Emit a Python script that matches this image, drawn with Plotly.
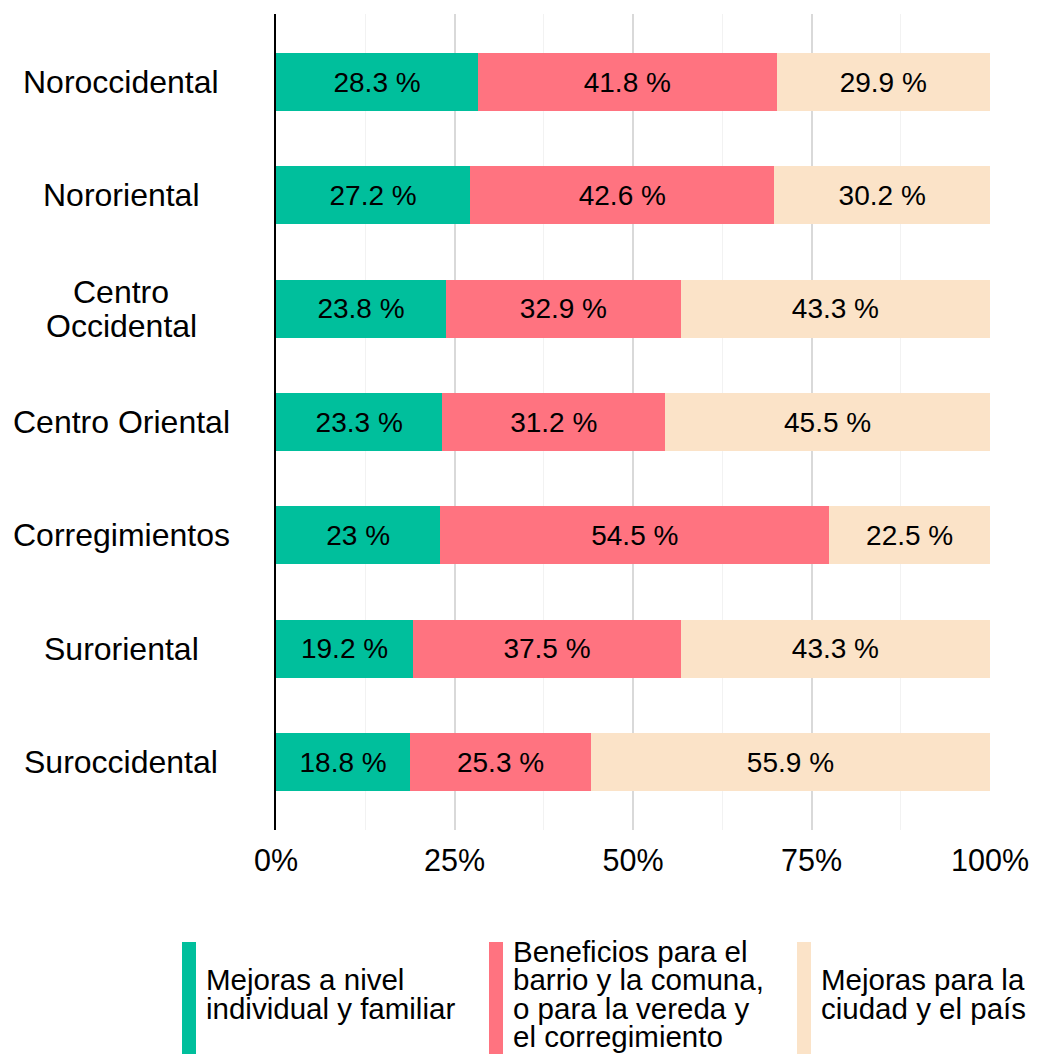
import plotly.graph_objects as go

regiones = ["Noroccidental", "Nororiental", "Centro<br>Occidental", "Centro Oriental",
            "Corregimientos", "Suroriental", "Suroccidental"]
individual = [28.3, 27.2, 23.8, 23.3, 23.0, 19.2, 18.8]
barrio = [41.8, 42.6, 32.9, 31.2, 54.5, 37.5, 25.3]
ciudad = [29.9, 30.2, 43.3, 45.5, 22.5, 43.3, 55.9]

series = [
    ("Mejoras a nivel<br>individual y familiar", individual, "#00BF9C"),
    ("Beneficios para el<br>barrio y la comuna,<br>o para la vereda y<br>el corregimiento", barrio, "#FF7380"),
    ("Mejoras para la<br>ciudad y el país", ciudad, "#FBE3C8"),
]

FONT = "Liberation Sans, Arial, sans-serif"
OFF = 8  # margen del body de la página
W, H = 1037 - OFF, 1054 - OFF
# bordes del área de datos en coordenadas de página
PL, PR, PT, PB = 276, 990, 14, 830
L, R, T, B = PL - OFF, W - (PR - OFF), PT - OFF, H - (PB - OFF)
PW, PH = PR - PL, PB - PT


def px_x(p):
    return (p - PL) / PW


def px_y(p):
    return (PB - p) / PH


fig = go.Figure()
for nombre, vals, color in series:
    fig.add_trace(go.Bar(
        y=regiones, x=vals, orientation="h", name=nombre,
        marker=dict(color=color, line=dict(width=0)),
        text=[f"{v:g} %" for v in vals], textposition="inside",
        insidetextanchor="middle", textangle=0,
        textfont=dict(size=28, color="black", family=FONT),
        showlegend=False,
    ))

annots = []
# etiquetas de categoría centradas a la izquierda
for reg in regiones:
    lineas = reg.split("<br>")
    n = len(lineas)
    for i, ln in enumerate(lineas):
        annots.append(dict(
            text=ln, xref="paper", yref="y", x=px_x(121), y=reg,
            xanchor="center", yanchor="middle", showarrow=False,
            yshift=((n - 1) / 2 - i) * 34,
            font=dict(size=32, color="black", family=FONT)))

# leyenda manual
leg_x = [182, 489, 797]
shapes = []
for (nombre, vals, color), x0 in zip(series, leg_x):
    shapes.append(dict(type="rect", xref="paper", yref="paper",
                       x0=px_x(x0), x1=px_x(x0 + 14), y0=px_y(942), y1=px_y(1056),
                       fillcolor=color, line=dict(width=0)))
    lineas = nombre.split("<br>")
    n = len(lineas)
    for i, ln in enumerate(lineas):
        yc = 994 + (i - (n - 1) / 2) * 28.3
        annots.append(dict(
            text=ln, xref="paper", yref="paper", x=px_x(x0 + 22), y=px_y(yc),
            xanchor="left", yanchor="middle", showarrow=False,
            font=dict(size=29.5, color="black", family=FONT)))

fig.update_layout(
    width=W, height=H,
    margin=dict(l=L, r=R, t=T, b=B),
    barmode="stack", bargap=0.49,
    plot_bgcolor="white", paper_bgcolor="white",
    font=dict(family=FONT, size=30, color="black"),
    annotations=annots, shapes=shapes,
    xaxis=dict(range=[0, 100], tickvals=[0, 25, 50, 75, 100],
               ticktext=["0%", "25%", "50%", "75%", "100%"],
               showgrid=True, gridcolor="#D9D9D9", gridwidth=1.5,
               minor=dict(tickvals=[12.5, 37.5, 62.5, 87.5], showgrid=True,
                          gridcolor="#F2F2F2", gridwidth=1),
               zeroline=False, showline=False, ticks="",
               ticklabelstandoff=9,
               tickfont=dict(size=30.5, color="black", family=FONT)),
    yaxis=dict(categoryorder="array", categoryarray=regiones,
               range=[6.6, -0.6], showticklabels=False, showgrid=False,
               showline=True, linecolor="black", linewidth=2, ticks="",
               zeroline=False),
)

fig.write_html("out.html")
